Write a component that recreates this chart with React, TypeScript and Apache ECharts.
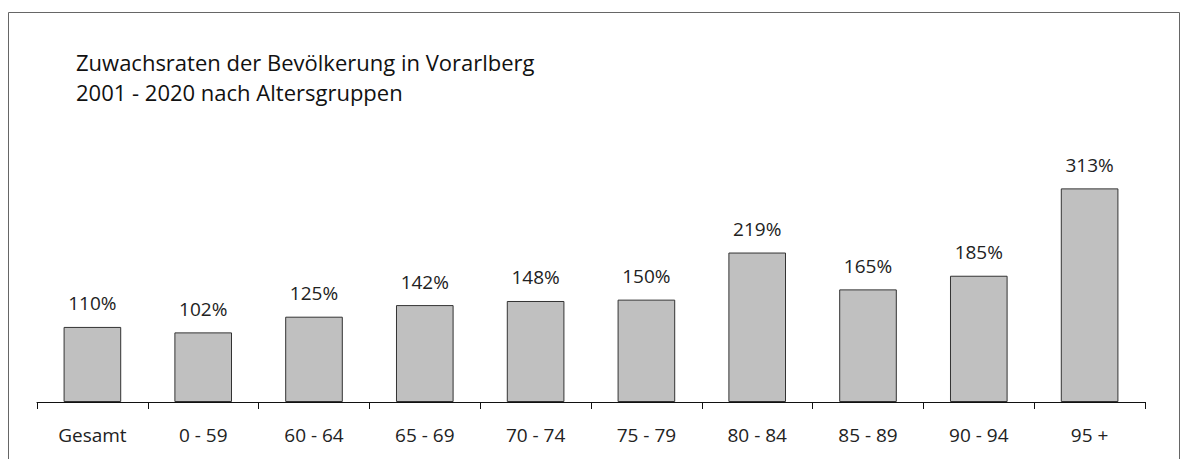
import React, { useEffect, useRef } from "react";
import * as echarts from "echarts";

const categories = ["Gesamt", "0 - 59", "60 - 64", "65 - 69", "70 - 74", "75 - 79", "80 - 84", "85 - 89", "90 - 94", "95 +"];
const growthRates = [110, 102, 125, 142, 148, 150, 219, 165, 185, 313];
const titleLines = ["Zuwachsraten der Bevölkerung in Vorarlberg", "2001 - 2020 nach Altersgruppen"];

const FONT = "'Open Sans', 'Noto Sans', sans-serif";

export default function App() {
  const ref = useRef<HTMLDivElement>(null);
  useEffect(() => {
    if (!ref.current) return;
    const chart = echarts.init(ref.current, null, { renderer: "svg" });
    chart.setOption({
      animation: false,
      backgroundColor: "#ffffff",
      title: {
        text: titleLines.join("\n"),
        left: 71,
        top: 42,
        textStyle: { fontFamily: FONT, fontSize: 22, fontWeight: "normal", color: "#111", lineHeight: 30 },
      },
      graphic: [
        {
          type: "rect",
          shape: { x: 8.5, y: 12.5, width: 1171, height: 460 },
          style: { fill: "none", stroke: "#666", lineWidth: 1 },
          silent: true,
        },
      ],
      grid: { left: 37, right: 36, top: 129, bottom: 57 },
      xAxis: {
        type: "category",
        data: categories,
        boundaryGap: true,
        axisLine: { lineStyle: { color: "#111", width: 1 } },
        axisTick: { show: true, length: 7, lineStyle: { color: "#111" } },
        axisLabel: { fontFamily: FONT, fontSize: 19, color: "#222", margin: 23 },
      },
      yAxis: {
        type: "value",
        min: 0,
        max: 400,
        show: false,
        splitLine: { show: false },
      },
      series: [
        {
          type: "bar",
          data: growthRates,
          barWidth: "52%",
          itemStyle: { color: "#c0c0c0", borderColor: "#333", borderWidth: 1 },
          label: {
            show: true,
            position: "top",
            distance: 14,
            formatter: "{c}%",
            fontFamily: FONT,
            fontSize: 19,
            color: "#222",
          },
        },
      ],
    });
    return () => chart.dispose();
  }, []);
  return (
    <div
      ref={ref}
      style={{ position: "fixed", left: 0, top: 0, width: 1181, height: 459, background: "#fff" }}
    />
  );
}
